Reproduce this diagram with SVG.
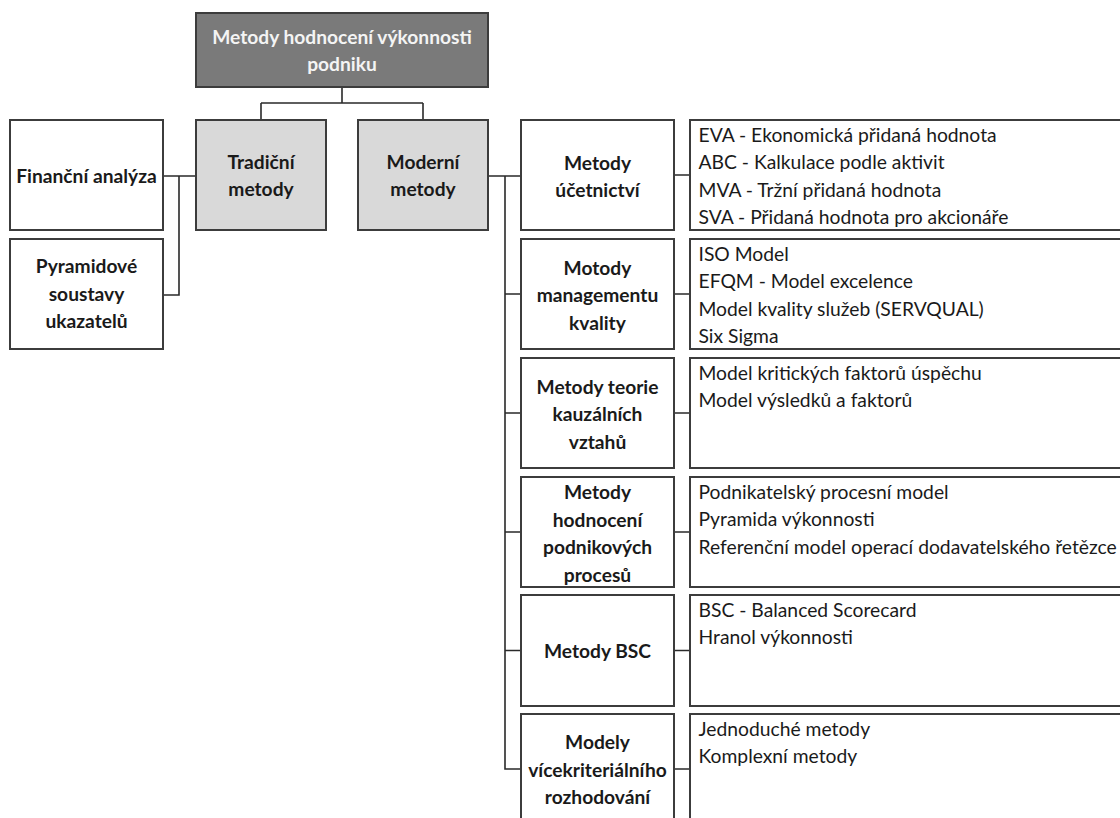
<svg xmlns="http://www.w3.org/2000/svg" width="1120" height="818" viewBox="0 0 1120 818">
<style>
.box{stroke:#3c3c3c;stroke-width:2;fill:#ffffff}
.gray{fill:#d9d9d9}
.dark{fill:#7a7a7a}
.b{font-family:Lato,"Open Sans",sans-serif;font-weight:bold;font-size:19.2px;fill:#1a1a1a;text-anchor:middle}
.w{fill:#f4f4f4}
.t{font-family:Lato,"Open Sans",sans-serif;font-size:19.3px;fill:#1a1a1a}
.c{stroke:#2a2a2a;stroke-width:1.6;fill:none}
</style>
<rect width="1120" height="818" fill="#ffffff"/>
<g id="connectors">
<path class="c" d="M342,87V103M261,103H423M261,103V120M423,103V120"/>
<path class="c" d="M196,176H163M179,176V295H163"/>
<path class="c" d="M488,176H521M505,176V769H521M505,294H521M505,413H521M505,532H521M505,650.5H521"/>
<path class="c" d="M674,175H690M674,294H690M674,413H690M674,532H690M674,650.5H690M674,769H690"/>
</g>
<g id="root"><rect class="box dark" x="196" y="13" width="292" height="74"/>
<text class="b w" x="342" y="43.5">Metody hodnocení výkonnosti</text><text class="b w" x="342" y="71">podniku</text></g>
<g id="tradicni"><rect class="box gray" x="196" y="120" width="130" height="110"/>
<text class="b" x="261" y="168.5">Tradiční</text><text class="b" x="261" y="196">metody</text></g>
<g id="moderni"><rect class="box gray" x="358" y="120" width="130" height="110"/>
<text class="b" x="423" y="168.5">Moderní</text><text class="b" x="423" y="196">metody</text></g>
<g id="financni"><rect class="box" x="10" y="120" width="153" height="110"/>
<text class="b" x="86.5" y="182.5">Finanční analýza</text></g>
<g id="pyramidove"><rect class="box" x="10" y="239" width="153" height="110"/>
<text class="b" x="86.5" y="273">Pyramidové</text><text class="b" x="86.5" y="300.5">soustavy</text><text class="b" x="86.5" y="328">ukazatelů</text></g>

<g id="ucetnictvi"><rect class="box" x="521" y="120" width="153" height="110"/>
<text class="b" x="597.5" y="169.5">Metody</text><text class="b" x="597.5" y="197">účetnictví</text></g>
<g id="ucetnictvi-list"><rect class="box" x="690" y="120" width="440" height="110"/>
<text class="t" x="698.5" y="141.7">EVA - Ekonomická přidaná hodnota</text>
<text class="t" x="698.5" y="169.2">ABC - Kalkulace podle aktivit</text>
<text class="t" x="698.5" y="196.7">MVA - Tržní přidaná hodnota</text>
<text class="t" x="698.5" y="224.2">SVA - Přidaná hodnota pro akcionáře</text></g>

<g id="kvalita"><rect class="box" x="521" y="239" width="153" height="110"/>
<text class="b" x="597.5" y="274.5">Motody</text><text class="b" x="597.5" y="302">managementu</text><text class="b" x="597.5" y="329.5">kvality</text></g>
<g id="kvalita-list"><rect class="box" x="690" y="239" width="440" height="110"/>
<text class="t" x="698.5" y="260.7">ISO Model</text>
<text class="t" x="698.5" y="288.2">EFQM - Model excelence</text>
<text class="t" x="698.5" y="315.7">Model kvality služeb (SERVQUAL)</text>
<text class="t" x="698.5" y="343.2">Six Sigma</text></g>

<g id="kauzalni"><rect class="box" x="521" y="358" width="153" height="110"/>
<text class="b" x="597.5" y="393.5">Metody teorie</text><text class="b" x="597.5" y="421">kauzálních</text><text class="b" x="597.5" y="448.5">vztahů</text></g>
<g id="kauzalni-list"><rect class="box" x="690" y="358" width="440" height="110"/>
<text class="t" x="698.5" y="379.7">Model kritických faktorů úspěchu</text>
<text class="t" x="698.5" y="407.2">Model výsledků a faktorů</text></g>

<g id="procesy"><rect class="box" x="521" y="477" width="153" height="110"/>
<text class="b" x="597.5" y="499">Metody</text><text class="b" x="597.5" y="526.5">hodnocení</text><text class="b" x="597.5" y="554">podnikových</text><text class="b" x="597.5" y="581.5">procesů</text></g>
<g id="procesy-list"><rect class="box" x="690" y="477" width="440" height="110"/>
<text class="t" x="698.5" y="498.7">Podnikatelský procesní model</text>
<text class="t" x="698.5" y="526.2">Pyramida výkonnosti</text>
<text class="t" x="698.5" y="553.7">Referenční model operací dodavatelského řetězce</text></g>

<g id="bsc"><rect class="box" x="521" y="595" width="153" height="111"/>
<text class="b" x="597.5" y="658">Metody BSC</text></g>
<g id="bsc-list"><rect class="box" x="690" y="595" width="440" height="111"/>
<text class="t" x="698.5" y="616.7">BSC - Balanced Scorecard</text>
<text class="t" x="698.5" y="644.2">Hranol výkonnosti</text></g>

<g id="vicekriterialni"><rect class="box" x="521" y="714" width="153" height="112"/>
<text class="b" x="597.5" y="749">Modely</text><text class="b" x="597.5" y="776.5">vícekriteriálního</text><text class="b" x="597.5" y="804">rozhodování</text></g>
<g id="vicekriterialni-list"><rect class="box" x="690" y="714" width="440" height="112"/>
<text class="t" x="698.5" y="735.7">Jednoduché metody</text>
<text class="t" x="698.5" y="763.2">Komplexní metody</text></g>
</svg>
